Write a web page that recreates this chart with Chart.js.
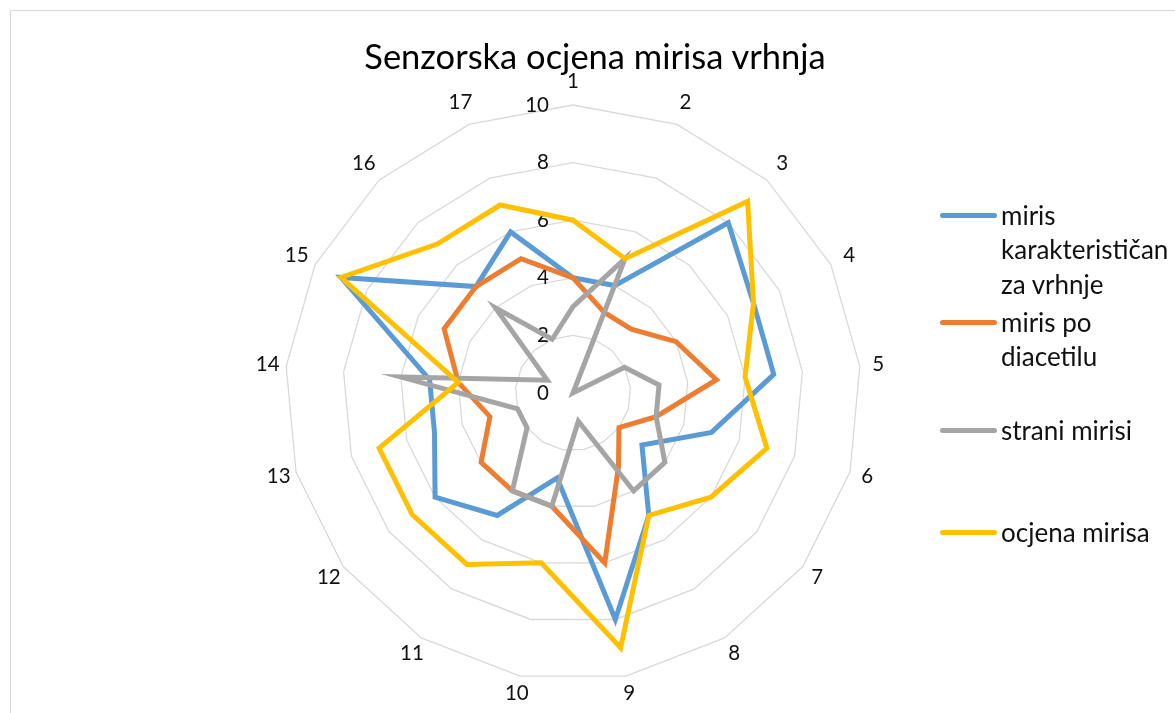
<!DOCTYPE html>
<html>
<head>
<meta charset="utf-8">
<title>Senzorska ocjena mirisa vrhnja</title>
<script src="https://cdn.jsdelivr.net/npm/chart.js@4.4.1/dist/chart.umd.min.js"></script>
<style>
    body { margin: 0; background: #fff; font-family: Lato, 'Open Sans', sans-serif; color: #000; }
    #wrap { position: relative; width: 1175px; height: 713px; overflow: hidden; }
    #frame { position: absolute; left: 10px; top: 10px; width: 1200px; height: 730px; border: 1px solid #d9d9d9; }
    #radar { position: absolute; left: 0; top: 0; }
    #title { position: absolute; left: 0; top: 36px; width: 1190px; text-align: center; font-size: 34.5px; line-height: 40px; }
    .swatch { position: absolute; left: 940px; width: 57px; height: 5px; border-radius: 3px; }
    .legend-text { position: absolute; left: 1001px; font-size: 26px; line-height: 34.5px; white-space: nowrap; color: #111; }
</style>
</head>
<body>
<div id="wrap">
    <div id="frame"></div>
    <canvas id="radar" width="1175" height="713"></canvas>
    <div id="title">Senzorska ocjena mirisa vrhnja</div>
    <div id="legend"></div>
</div>
<script>
// Sensory scores per sample (1-17)
const categories = ['1', '2', '3', '4', '5', '6', '7', '8', '9', '10', '11', '12', '13', '14', '15', '16', '17'];
const tickValues = [0, 2, 4, 6, 8, 10];

const mirisVrhnje   = [4, 4, 8, 7, 7, 5, 3, 5, 8, 3, 5, 6, 5, 5, 9, 5, 6];
const mirisDiacetil = [4, 3, 3, 4, 5, 3, 2, 3, 6, 4, 4, 4, 3, 4, 5, 5, 5];
const straniMirisi  = [3, 5, 0, 2, 3, 3, 4, 4, 1, 4, 4, 2, 2, 6, 1, 4, 2];
const ocjenaMirisa  = [6, 5, 9, 7, 6, 7, 6, 5, 9, 6, 7, 7, 7, 4, 9, 7, 7];

const seriesNames = ['miris karakterističan za vrhnje', 'miris po diacetilu', 'strani mirisi', 'ocjena mirisa'];
const legendLines = [['miris', 'karakterističan', 'za vrhnje'], ['miris po', 'diacetilu'], ['strani mirisi'], ['ocjena mirisa']];
const legendY = [215, 322, 430, 532];
const colors = ['#5B9BD5', '#ED7D31', '#A5A5A5', '#FFC000'];

// tick + category labels drawn through the radial scale
const radarLabels = {
    id: 'radarLabels',
    beforeDatasetsDraw(chart) {
        const scale = chart.scales.r;
        const ctx = chart.ctx;
        ctx.save();
        ctx.fillStyle = '#111';
        ctx.font = '20.5px Lato';
        ctx.textBaseline = 'middle';
        ctx.textAlign = 'right';
        tickValues.forEach(v => {
            const d = scale.getDistanceFromCenterForValue(v);
            ctx.fillText(String(v), scale.xCenter - 24, scale.yCenter - d);
        });
        ctx.textAlign = 'center';
        categories.forEach((c, i) => {
            // top labels sit a bit further out in the original
            const extra = Math.max(0, Math.cos(i * 2 * Math.PI / categories.length)) * 6;
            const p = scale.getPointPosition(i, scale.drawingArea + 18 + extra);
            ctx.fillText(c, p.x, p.y);
        });
        ctx.restore();
    }
};

function makeDataset(label, data, color, order) {
    return {
        label: label,
        data: data,
        borderColor: color,
        backgroundColor: color,
        borderWidth: 5,
        pointRadius: 0,
        fill: false,
        tension: 0,
        order: order
    };
}

document.addEventListener('DOMContentLoaded', function() {
    const ctx = document.getElementById('radar');
    new Chart(ctx.getContext('2d'), {
        type: 'radar',
        data: {
            labels: categories,
            datasets: [
                makeDataset(seriesNames[0], mirisVrhnje, colors[0], 3),
                makeDataset(seriesNames[1], mirisDiacetil, colors[1], 2),
                makeDataset(seriesNames[2], straniMirisi, colors[2], 1),
                makeDataset(seriesNames[3], ocjenaMirisa, colors[3], 0)
            ]
        },
        options: {
            responsive: false,
            animation: false,
            events: [],
            layout: {
                padding: { left: 285, top: 105, right: 314, bottom: 32 }
            },
            plugins: {
                legend: { display: false },
                tooltip: { enabled: false }
            },
            scales: {
                r: {
                    min: 0,
                    max: 10,
                    ticks: { display: false, stepSize: 2 },
                    grid: { circular: false, color: '#d9d9d9', lineWidth: 1.3 },
                    angleLines: { display: false },
                    pointLabels: { display: false }
                }
            }
        },
        plugins: [radarLabels]
    });

    // legend with wrapped labels, like the original
    const legend = document.getElementById('legend');
    legendLines.forEach((lines, i) => {
        const sw = document.createElement('div');
        sw.className = 'swatch';
        sw.style.top = (legendY[i] - 2.5) + 'px';
        sw.style.background = colors[i];
        legend.appendChild(sw);
        const txt = document.createElement('div');
        txt.className = 'legend-text';
        txt.style.top = (legendY[i] - 17.25) + 'px';
        txt.innerHTML = lines.join('<br>');
        legend.appendChild(txt);
    });
});
</script>
</body>
</html>
